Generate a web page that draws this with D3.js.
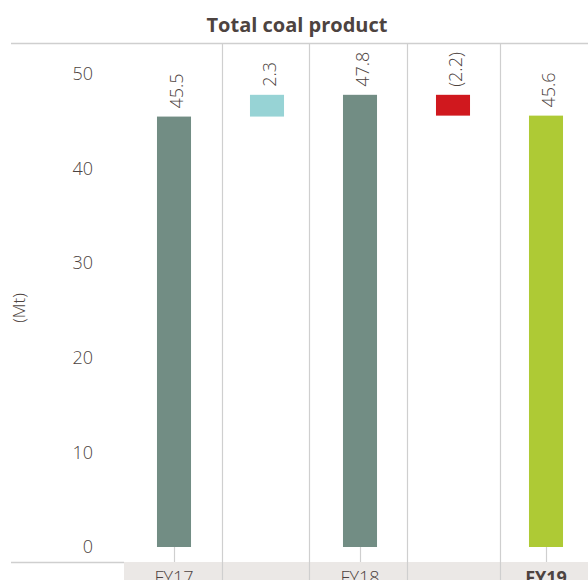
<!DOCTYPE html>
<html>
<head>
<meta charset="utf-8">
<script src="https://cdn.jsdelivr.net/npm/d3@7"></script>
<style>
  html, body { margin: 0; padding: 0; background: #fff; }
  svg { display: block; font-family: "Open Sans", Lato, sans-serif; }
</style>
</head>
<body>
<div id="chart"></div>
<script>
// chart data
var categories = ["FY17", "", "FY18", "", "FY19"]
var values = [45.5, 2.3, 47.8, -2.2, 45.6]
var kinds = ["total", "up", "total", "down", "final"]
var valueLabels = ["45.5", "2.3", "47.8", "(2.2)", "45.6"]
var yTicks = [0, 10, 20, 30, 40, 50]

var width = 588
var height = 580

var textColor = "#4d4340"
var lineColor = "#cfcfcf"
var color = { total: "#728d84", up: "#97d3d5", down: "#d0181e", final: "#aeca35" }

var svg = d3.select("#chart")
            .append("svg")
            .attr("width", width)
            .attr("height", height)

// running base for the waterfall
var bars = []
var running = 0
values.forEach(function (v, i) {
    var k = kinds[i]
    var lo, hi
    if (k === "total" || k === "final") {
        lo = 0; hi = v; running = v
    } else {
        lo = Math.min(running, running + v)
        hi = Math.max(running, running + v)
        running = running + v
    }
    bars.push({ i: i, lo: lo, hi: hi, kind: k, label: valueLabels[i], cat: categories[i] })
})

var xScale = d3.scaleBand()
                .domain(d3.range(values.length))
                .range([127.5, 592.5])
                .paddingInner(0.634)
                .paddingOuter(0.317)

var yScale = d3.scaleLinear()
                .domain([0, 50])
                .range([547, 74])

var step = xScale.step()
var bw = xScale.bandwidth()

// grey footer band
svg.append("rect")
    .attr("x", 124)
    .attr("y", 562)
    .attr("width", width - 124)
    .attr("height", height - 562)
    .attr("fill", "#ebe8e6")

// top rule and bottom-left rule
svg.append("line")
    .attr("x1", 11).attr("x2", width)
    .attr("y1", 43.5).attr("y2", 43.5)
    .attr("stroke", lineColor).attr("stroke-width", 1.5)

svg.append("line")
    .attr("x1", 11).attr("x2", 124)
    .attr("y1", 562.5).attr("y2", 562.5)
    .attr("stroke", lineColor).attr("stroke-width", 1.5)

// vertical separators, roughly halfway between neighbouring bars
var sepOffset = [1, -5, 0, 0]
svg.selectAll(".sep")
    .data(d3.range(values.length - 1))
    .enter()
    .append("line")
    .attr("class", "sep")
    .attr("x1", function (d) { return Math.round(xScale(d) + bw + (step - bw) / 2) + sepOffset[d] + 0.5 })
    .attr("x2", function (d) { return Math.round(xScale(d) + bw + (step - bw) / 2) + sepOffset[d] + 0.5 })
    .attr("y1", 44)
    .attr("y2", height)
    .attr("stroke", lineColor)
    .attr("stroke-width", 1.2)

// title
svg.append("text")
    .attr("x", 297)
    .attr("y", 32)
    .attr("text-anchor", "middle")
    .attr("fill", textColor)
    .style("font-size", "20px")
    .style("font-weight", "bold")
    .text("Total coal product")

// y axis labels
var yAxis = d3.axisLeft(yScale)
                .tickValues(yTicks)
                .tickSize(0)
                .tickPadding(0)

var yG = svg.append("g")
            .attr("transform", "translate(93,0)")
            .call(yAxis)
yG.select(".domain").remove()
yG.selectAll("text")
    .attr("fill", textColor)
    .style("font-size", "18px")
    .style("font-weight", 300)
    .style("font-family", "'Open Sans', Lato, sans-serif")

svg.append("text")
    .attr("text-anchor", "middle")
    .attr("dominant-baseline", "central")
    .attr("transform", "translate(18,308)rotate(-90)")
    .attr("fill", textColor)
    .style("font-size", "17px")
    .style("font-weight", 300)
    .text("(Mt)")

// little ticks under the total bars
svg.selectAll(".tick-line")
    .data(bars.filter(function (d) { return d.cat !== "" }))
    .enter()
    .append("line")
    .attr("x1", function (d) { return Math.round(xScale(d.i) + bw / 2) + 0.5 })
    .attr("x2", function (d) { return Math.round(xScale(d.i) + bw / 2) + 0.5 })
    .attr("y1", yScale(0))
    .attr("y2", 562)
    .attr("stroke", lineColor)
    .attr("stroke-width", 1.2)

// bars
svg.selectAll(".bar")
    .data(bars)
    .enter()
    .append("rect")
    .attr("class", "bar")
    .attr("x", function (d) { return xScale(d.i) })
    .attr("width", bw)
    .attr("y", function (d) { return yScale(d.hi) })
    .attr("height", function (d) { return yScale(d.lo) - yScale(d.hi) })
    .attr("fill", function (d) { return color[d.kind] })

// value labels, rotated
svg.selectAll(".val")
    .data(bars)
    .enter()
    .append("text")
    .attr("class", "val")
    .attr("transform", function (d) {
        return "translate(" + (xScale(d.i) + bw / 2 + 2) + "," + (yScale(d.hi) - 8) + ")rotate(-90)"
    })
    .attr("dominant-baseline", "central")
    .attr("fill", textColor)
    .style("font-size", "18px")
    .style("font-weight", 300)
    .text(function (d) { return d.label })

// category labels (cut by the bottom edge, as in the source)
svg.selectAll(".cat")
    .data(bars.filter(function (d) { return d.cat !== "" }))
    .enter()
    .append("text")
    .attr("class", "cat")
    .attr("x", function (d) { return xScale(d.i) + bw / 2 })
    .attr("y", 584)
    .attr("text-anchor", "middle")
    .attr("fill", textColor)
    .style("font-size", "18px")
    .style("font-weight", function (d) { return d.kind === "final" ? "bold" : 300 })
    .text(function (d) { return d.cat })
</script>
</body>
</html>
